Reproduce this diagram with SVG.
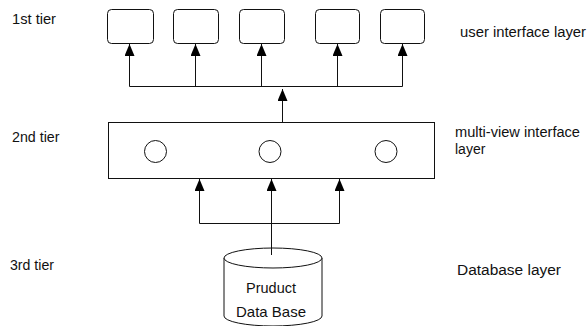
<svg xmlns="http://www.w3.org/2000/svg" width="587" height="326" viewBox="0 0 587 326">
<style>
.lbl{font-family:"Liberation Sans",Arial,sans-serif;font-size:14px;fill:#111}
.box{fill:#fff;stroke:#111;stroke-width:1}
.ln{fill:none;stroke:#111;stroke-width:1}
</style>
<defs>
<marker id="ah" viewBox="0 0 12 10" refX="12" refY="5" markerWidth="12" markerHeight="10" markerUnits="userSpaceOnUse" orient="auto">
<path d="M0,0 L12,5 L0,10 Z" fill="#000"/>
</marker>
</defs>
<rect width="587" height="326" fill="#fff"/>
<g id="labels">
<text class="lbl" x="12" y="24" textLength="44" lengthAdjust="spacingAndGlyphs">1st tier</text>
<text class="lbl" x="12" y="142" textLength="47.5" lengthAdjust="spacingAndGlyphs">2nd tier</text>
<text class="lbl" x="10" y="270" textLength="44" lengthAdjust="spacingAndGlyphs">3rd tier</text>
<text class="lbl" x="460" y="37" textLength="126" lengthAdjust="spacingAndGlyphs">user interface layer</text>
<text class="lbl" x="455" y="137" textLength="125" lengthAdjust="spacingAndGlyphs">multi-view interface</text>
<text class="lbl" x="455" y="154">layer</text>
<text class="lbl" x="457" y="275" textLength="104" lengthAdjust="spacingAndGlyphs">Database layer</text>
</g>
<g id="ui1"><rect class="box" x="107.5" y="9.5" width="46" height="34" rx="4"/></g>
<g id="ui2"><rect class="box" x="173.5" y="9.5" width="45" height="34" rx="4"/></g>
<g id="ui3"><rect class="box" x="239.5" y="9.5" width="45" height="34" rx="4"/></g>
<g id="ui4"><rect class="box" x="315.5" y="9.5" width="44" height="34" rx="4"/></g>
<g id="ui5"><rect class="box" x="380.5" y="9.5" width="44" height="34" rx="4"/></g>
<g id="multiview">
<rect class="box" x="108.5" y="122.5" width="326" height="56"/>
<circle class="ln" cx="155.5" cy="151.5" r="11"/>
<circle class="ln" cx="270" cy="151.5" r="11"/>
<circle class="ln" cx="386" cy="151.5" r="11"/>
</g>
<g id="database">
<path class="box" d="M224,258 L224,316 A49,10 0 0 0 322,316 L322,258"/>
<ellipse class="box" cx="273" cy="258" rx="49" ry="10"/>
<text class="lbl" x="271" y="293" text-anchor="middle" textLength="50" lengthAdjust="spacingAndGlyphs" style="font-size:15px">Pruduct</text>
<text class="lbl" x="271" y="317" text-anchor="middle" textLength="70" lengthAdjust="spacingAndGlyphs" style="font-size:15px">Data Base</text>
</g>
<g id="connectors">
<path class="ln" d="M129.5,86.5 H402.5"/>
<path class="ln" d="M129.5,86.5 V44" marker-end="url(#ah)"/>
<path class="ln" d="M195.5,86.5 V44" marker-end="url(#ah)"/>
<path class="ln" d="M261.5,86.5 V44" marker-end="url(#ah)"/>
<path class="ln" d="M337.5,86.5 V44" marker-end="url(#ah)"/>
<path class="ln" d="M402.5,86.5 V44" marker-end="url(#ah)"/>
<path class="ln" d="M282.5,122.5 V89" marker-end="url(#ah)"/>
<path class="ln" d="M199.5,223.5 H339.5"/>
<path class="ln" d="M199.5,223.5 V179" marker-end="url(#ah)"/>
<path class="ln" d="M271.5,255 V179" marker-end="url(#ah)"/>
<path class="ln" d="M339.5,223.5 V179" marker-end="url(#ah)"/>
</g>
</svg>
